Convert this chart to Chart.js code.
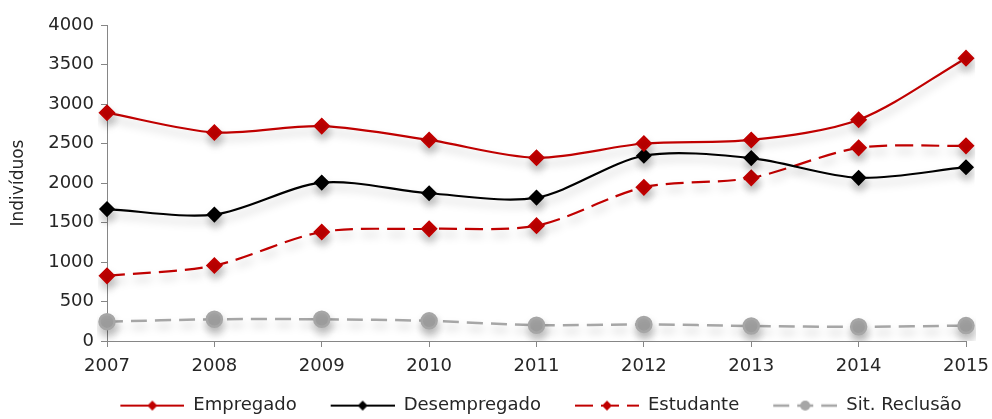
<!DOCTYPE html>
<html>
<head>
<meta charset="utf-8">
<script src="https://cdn.jsdelivr.net/npm/chart.js@4/dist/chart.umd.min.js"></script>
<style>
  html, body { margin: 0; padding: 0; background: #fff; }
  #wrap { width: 992px; height: 419px; }
</style>
</head>
<body>
<div id="wrap"><canvas id="grafico" width="992" height="419"></canvas></div>
<script>
// Dados
const anos = ['2007', '2008', '2009', '2010', '2011', '2012', '2013', '2014', '2015'];
const empregado = [2890, 2640, 2720, 2545, 2320, 2500, 2545, 2800, 3580];
const desempregado = [1670, 1600, 2005, 1870, 1815, 2345, 2315, 2065, 2200];
const estudante = [825, 955, 1380, 1420, 1460, 1945, 2065, 2445, 2470];
const reclusao = [245, 275, 275, 255, 200, 210, 190, 180, 195];

const vermelho = '#C00000';
const preto = '#000000';
const cinza = '#A6A6A6';
const fonte = "'DejaVu Sans', sans-serif";
const margem = 24; // espaço extra antes de cada amostra da legenda

// pequena amostra da linha + marcador para a legenda
function amostra(cor, tracejado, marcador, largura) {
    const c = document.createElement('canvas');
    c.width = 64 + margem;
    c.height = 18;
    const g = c.getContext('2d');
    g.translate(margem, 0);
    g.strokeStyle = cor;
    g.lineWidth = largura;
    g.setLineDash(tracejado);
    g.beginPath();
    g.moveTo(0, 9);
    g.lineTo(64, 9);
    g.stroke();
    g.setLineDash([]);
    g.fillStyle = cor;
    g.beginPath();
    if (marcador === 'losango') {
        g.moveTo(32, 4); g.lineTo(37, 9); g.lineTo(32, 14); g.lineTo(27, 9);
    } else {
        g.arc(32, 9, 5, 0, Math.PI * 2);
    }
    g.closePath();
    g.fill();
    return c;
}

const amostras = [
    amostra(vermelho, [], 'losango', 2.2),
    amostra(preto, [], 'losango', 2.2),
    amostra(vermelho, [18, 8], 'losango', 2.2),
    amostra(cinza, [16, 8], 'circulo', 2.5)
];

// sombra por baixo das linhas (como no Excel)
const sombra = {
    id: 'sombra',
    beforeDatasetDraw(chart) {
        const ctx = chart.ctx;
        ctx.save();
        ctx.shadowColor = 'rgba(0,0,0,0.25)';
        ctx.shadowBlur = 8;
        ctx.shadowOffsetX = 1;
        ctx.shadowOffsetY = 6;
    },
    afterDatasetDraw(chart) {
        chart.ctx.restore();
    }
};

// a legenda do original está um pouco deslocada para a direita
const posicaoLegenda = {
    id: 'posicaoLegenda',
    afterLayout(chart) {
        chart.legend.left += 31;
        chart.legend.right += 31;
    }
};

const ctx = document.getElementById('grafico').getContext('2d');
const grafico = new Chart(ctx, {
    type: 'line',
    data: {
        labels: anos,
        datasets: [{
            label: 'Empregado',
            data: empregado,
            borderColor: vermelho,
            backgroundColor: vermelho,
            borderWidth: 2.2,
            pointStyle: 'rectRot',
            pointRadius: 7,
            tension: 0.3
        }, {
            label: 'Desempregado',
            data: desempregado,
            borderColor: preto,
            backgroundColor: preto,
            borderWidth: 2.2,
            pointStyle: 'rectRot',
            pointRadius: 6.5,
            tension: 0.3
        }, {
            label: 'Estudante',
            data: estudante,
            borderColor: vermelho,
            backgroundColor: vermelho,
            borderWidth: 2.2,
            borderDash: [18, 8],
            pointStyle: 'rectRot',
            pointRadius: 7,
            tension: 0.3
        }, {
            label: 'Sit. Reclusão',
            data: reclusao,
            borderColor: cinza,
            backgroundColor: cinza,
            borderWidth: 2.5,
            borderDash: [16, 8],
            pointStyle: 'circle',
            pointRadius: 7.5,
            tension: 0.3
        }]
    },
    options: {
        responsive: false,
        animation: false,
        layout: {
            padding: { top: 25, right: 0, bottom: -5.6, left: 4 }
        },
        plugins: {
            tooltip: { enabled: false },
            legend: {
                display: true,
                position: 'bottom',
                labels: {
                    usePointStyle: true,
                    pointStyleWidth: 64 + margem,
                    boxHeight: 18,
                    padding: 10,
                    color: '#262626',
                    font: { family: fonte, size: 18 },
                    generateLabels(chart) {
                        return chart.data.datasets.map((ds, i) => ({
                            text: ds.label,
                            fillStyle: ds.borderColor,
                            strokeStyle: ds.borderColor,
                            lineWidth: 0,
                            pointStyle: amostras[i],
                            fontColor: '#262626',
                            hidden: false,
                            datasetIndex: i
                        }));
                    }
                }
            }
        },
        scales: {
            x: {
                afterFit(escala) { escala.paddingRight = 26; },
                grid: {
                    display: true,
                    drawOnChartArea: false,
                    tickLength: 6,
                    color: '#868686'
                },
                border: { display: true, color: '#868686', width: 1 },
                ticks: {
                    padding: 9,
                    color: '#262626',
                    font: { family: fonte, size: 18 },
                    maxRotation: 0
                }
            },
            y: {
                min: 0,
                max: 4000,
                afterFit(escala) { escala.width = 103; },
                grid: {
                    display: true,
                    drawOnChartArea: false,
                    tickLength: 6,
                    color: '#868686'
                },
                border: { display: true, color: '#868686', width: 1 },
                ticks: {
                    stepSize: 500,
                    padding: 7,
                    color: '#262626',
                    font: { family: fonte, size: 18 },
                    callback: v => String(v)
                },
                title: {
                    display: true,
                    text: 'Indivíduos',
                    color: '#262626',
                    font: { family: fonte, size: 17 },
                    padding: { top: 4, bottom: 4 }
                }
            }
        }
    },
    plugins: [sombra, posicaoLegenda]
});
</script>
</body>
</html>
